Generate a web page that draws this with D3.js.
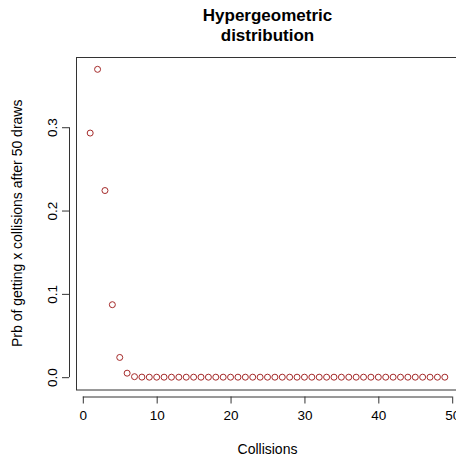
<!DOCTYPE html>
<html>
<head>
<meta charset="utf-8">
<script src="https://cdn.jsdelivr.net/npm/d3@7"></script>
<style>
  body { margin: 0; background: #fff; }
  text { font-family: "Liberation Sans", Arial, sans-serif; fill: #000; }
</style>
</head>
<body>
<script>
var collisions = d3.range(1, 50);
var probs = [0.293, 0.3695, 0.224, 0.087, 0.0237, 0.0048, 0.0006, 0.0001, 0, 0,
             0, 0, 0, 0, 0, 0, 0, 0, 0, 0,
             0, 0, 0, 0, 0, 0, 0, 0, 0, 0,
             0, 0, 0, 0, 0, 0, 0, 0, 0, 0,
             0, 0, 0, 0, 0, 0, 0, 0, 0];
var xTicks = [0, 10, 20, 30, 40, 50];
var yTicks = [0.0, 0.1, 0.2, 0.3];

var w = 456, h = 459;
var pLeft = 76, pRight = 459, pTop = 57, pBottom = 389.5;

var svg = d3.select("body").append("svg")
    .attr("width", w)
    .attr("height", h);

// R style 4% padding on the data range
var xScale = d3.scaleLinear()
    .domain([1 - 48 * 0.04, 49 + 48 * 0.04])
    .range([pLeft, pRight]);
var yScale = d3.scaleLinear()
    .domain([-0.3695 * 0.04, 0.3695 * 1.04])
    .range([pBottom, pTop]);

/* plot frame */
svg.append("rect")
    .attr("x", pLeft + 0.5)
    .attr("y", pTop + 0.5)
    .attr("width", pRight - pLeft)
    .attr("height", pBottom - pTop)
    .attr("fill", "none")
    .attr("stroke", "#333")
    .attr("stroke-width", 1);

var xAxis = d3.axisBottom(xScale)
    .tickValues(xTicks)
    .tickFormat(d3.format("d"))
    .tickSize(7)
    .tickPadding(7);
var gx = svg.append("g")
    .attr("transform", "translate(0," + (pBottom + 7) + ")")
    .call(xAxis);
gx.select(".domain").remove();
gx.append("line")
    .attr("x1", xScale(0)).attr("x2", xScale(50))
    .attr("y1", 0.5).attr("y2", 0.5)
    .attr("stroke", "#333");
gx.selectAll(".tick line").attr("stroke", "#333");
gx.selectAll("text").attr("font-size", 13.5).attr("fill", "#222");

var yAxis = d3.axisLeft(yScale)
    .tickValues(yTicks)
    .tickFormat(d3.format(".1f"))
    .tickSize(7);
var gy = svg.append("g")
    .attr("transform", "translate(" + (pLeft - 7) + ",0)")
    .call(yAxis);
gy.select(".domain").remove();
gy.append("line")
    .attr("x1", 0.5).attr("x2", 0.5)
    .attr("y1", yScale(0)).attr("y2", yScale(0.3))
    .attr("stroke", "#333");
gy.selectAll(".tick line").attr("stroke", "#333");
gy.selectAll(".tick text")
    .attr("font-size", 13.5)
    .attr("fill", "#222")
    .attr("text-anchor", "middle")
    .attr("dy", 0)
    .attr("x", 0)
    .attr("y", 0)
    .attr("transform", "translate(-12,0) rotate(-90)");

svg.selectAll("circle.pt")
    .data(collisions)
    .enter()
    .append("circle")
    .attr("class", "pt")
    .attr("cx", function(d, i){ return xScale(d) })
    .attr("cy", function(d, i){ return yScale(probs[i]) })
    .attr("r", 3)
    .attr("fill", "none")
    .attr("stroke", "#a52a2a")
    .attr("stroke-width", 1);

var cx = (pLeft + 459) / 2;
svg.append("text")
    .attr("x", cx).attr("y", 21)
    .attr("text-anchor", "middle")
    .attr("font-size", 17).attr("font-weight", "bold")
    .text("Hypergeometric");
svg.append("text")
    .attr("x", cx).attr("y", 41)
    .attr("text-anchor", "middle")
    .attr("font-size", 17).attr("font-weight", "bold")
    .text("distribution");

svg.append("text")
    .attr("x", cx).attr("y", 454)
    .attr("text-anchor", "middle")
    .attr("font-size", 14)
    .text("Collisions");

svg.append("text")
    .attr("transform", "translate(22," + ((pTop + pBottom) / 2) + ") rotate(-90)")
    .attr("text-anchor", "middle")
    .attr("font-size", 14)
    .text("Prb of getting x collisions after 50 draws");
</script>
</body>
</html>
